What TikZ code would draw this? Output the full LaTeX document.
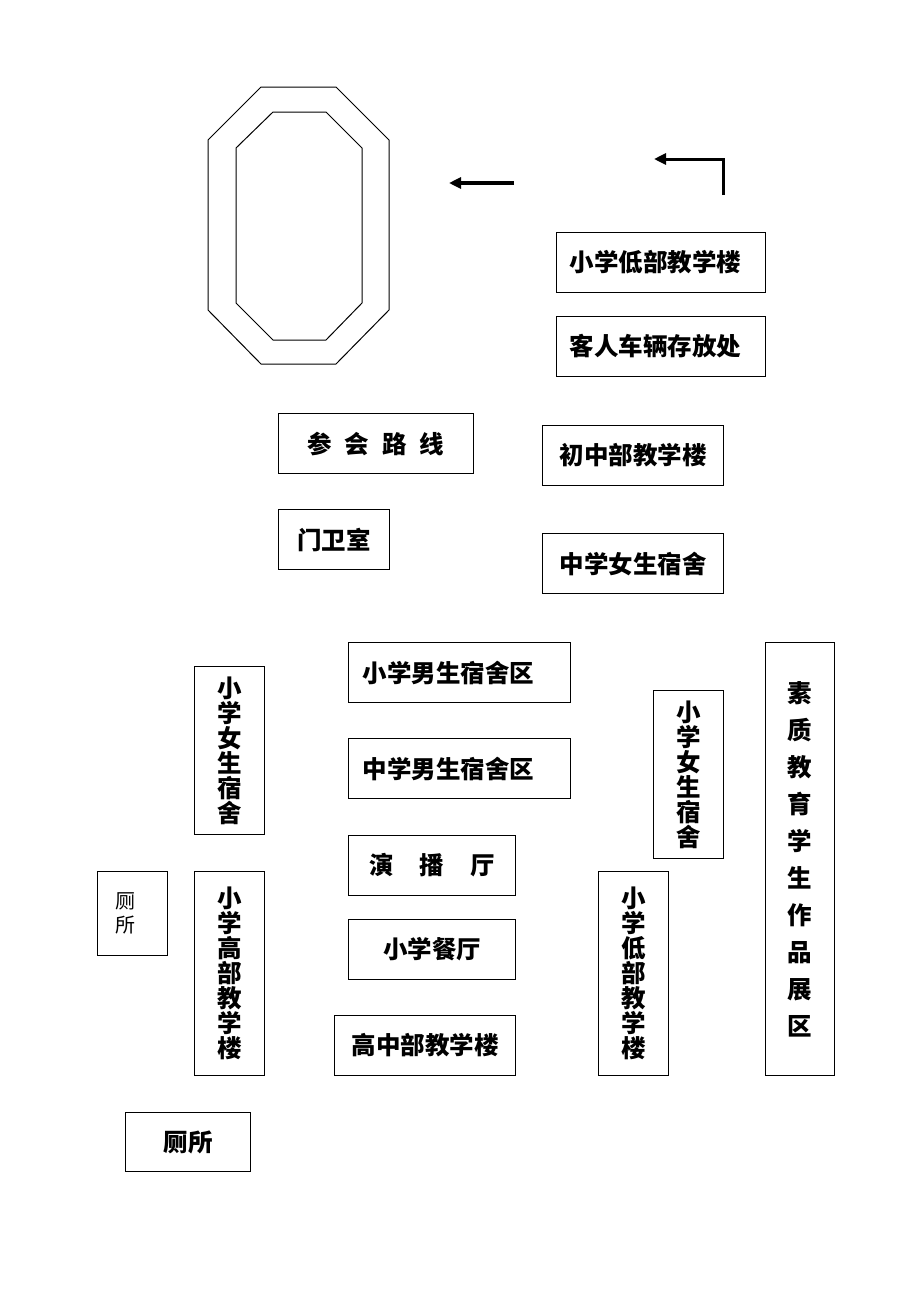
\documentclass[tikz,border=0pt]{standalone}
\usepackage{fontspec}
\setmainfont{Noto Sans CJK SC}
\usetikzlibrary{arrows.meta}

\tikzset{
    bldg/.style={draw, line width=1pt, inner sep=0pt, anchor=north west,
        align=center, font=\bfseries\fontsize{24.5}{25}\selectfont},
    track/.style={draw, line width=1pt},
    route/.style={line width=3pt, -{Triangle[length=12pt, width=11pt]}},
}
% #1 options, #2 name, #3 x, #4 y (top left), #5 width, #6 height, #7 text
\newcommand{\bldg}[7][]{%
    \node[bldg, minimum width=#5pt, minimum height=#6pt, #1] (#2) at (#3,#4) {#7};
}

\begin{document}
\begin{tikzpicture}[x=1pt, y=-1pt]
    \useasboundingbox (0,0) rectangle (920,1302);

    % running track
    \draw[track] (261,87) -- (336,87) -- (389,140) -- (389,310) -- (336,364)
        -- (261,364) -- (208,310) -- (208,140) -- cycle;
    \draw[track] (273,112) -- (326,112) -- (362,148) -- (362,303) -- (326,340)
        -- (273,340) -- (236,303) -- (236,148) -- cycle;

    % route arrows
    \coordinate (gateA) at (514,183);
    \coordinate (gateB) at (449,183);
    \draw[route, line width=4pt] (gateA) -- (gateB);
    \coordinate (turnA) at (723,195);
    \coordinate (turnC) at (654,159);
    \draw[route] (turnA) |- (turnC);

    % upper buildings
    \bldg[text width=183pt, inner xsep=13pt, align=left]{lowA}{556}{232}{209}{60}{小学低部教学楼}
    \bldg[text width=183pt, inner xsep=13pt, align=left]{guest}{556}{316}{209}{60}{客人车辆存放处}
    \bldg{route}{278}{413}{195}{60}{参\hspace{13pt}会\hspace{13pt}路\hspace{13pt}线}
    \bldg{junior}{542}{425}{181}{60}{初中部教学楼}
    \bldg{guard}{278}{509}{111}{60}{门卫室}
    \bldg{girlsM}{542}{533}{181}{60}{中学女生宿舍}

    % lower buildings
    \bldg[text width=194pt, inner xsep=14pt, align=left]{boysP}{348}{642}{222}{60}{小学男生宿舍区}
    \bldg[text width=194pt, inner xsep=14pt, align=left]{boysM}{348}{738}{222}{60}{中学男生宿舍区}
    \bldg{hall}{348}{835}{167}{60}{演\hspace{26pt}播\hspace{26pt}厅}
    \bldg{canteen}{348}{919}{167}{60}{小学餐厅}
    \bldg{senior}{334}{1015}{181}{60}{高中部教学楼}

    \bldg{girlsL}{194}{666}{70}{168}{小\\学\\女\\生\\宿\\舍}
    \bldg{highP}{194}{871}{70}{204}{小\\学\\高\\部\\教\\学\\楼}
    \bldg[text width=34pt, inner xsep=18pt, align=left,
        font=\fontsize{20}{24}\selectfont]{wcA}{97}{871}{70}{84}{厕\\所}
    \bldg{wcB}{125}{1112}{125}{59}{厕所}

    \bldg{girlsR}{653}{690}{70}{168}{小\\学\\女\\生\\宿\\舍}
    \bldg{lowB}{598}{871}{70}{204}{小\\学\\低\\部\\教\\学\\楼}
    \bldg[font=\bfseries\fontsize{24.5}{37}\selectfont]{show}{765}{642}{69}{433}%
        {素\\质\\教\\育\\学\\生\\作\\品\\展\\区}
\end{tikzpicture}
\end{document}
